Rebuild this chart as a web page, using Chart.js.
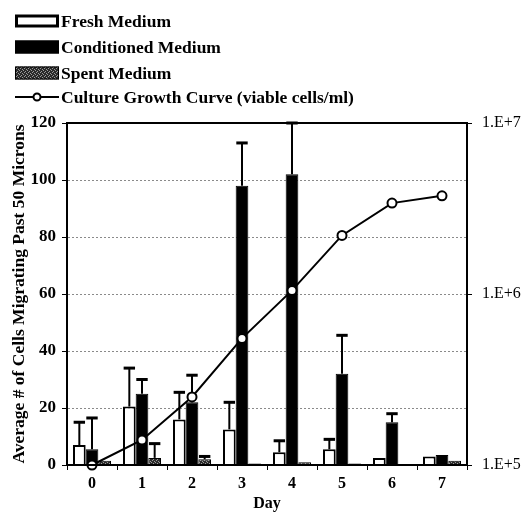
<!DOCTYPE html>
<html>
<head>
<meta charset="utf-8">
<script src="https://cdn.jsdelivr.net/npm/chart.js@4.4.1/dist/chart.umd.min.js"></script>
<style>
html,body{margin:0;padding:0;background:#fff;}
#c{display:block;}
</style>
</head>
<body>
<canvas id="c" width="527" height="521"></canvas>
<script>
// ---- data ----
const days = ['0', '1', '2', '3', '4', '5', '6', '7'];
const freshMedium = [7, 20.5, 16, 12.5, 4.5, 5.5, 2.5, 3];
const freshErr = [8, 13.5, 9.5, 9.5, 4, 3.5, 0, 0];
const conditionedMedium = [5.5, 25, 22, 98, 102, 32, 15, 3.5];
const conditionedErr = [11, 5, 9.5, 15, 18, 13.5, 3, 0];
const spentMedium = [1.5, 2.5, 2, 0.5, 1, 0.5, 0, 1.5];
const spentErr = [0, 5, 1, 0, 0, 0, 0, 0];
const growthCurve = [1.0e5, 1.4e5, 2.5e5, 5.5e5, 1.05e6, 2.2e6, 3.4e6, 3.75e6];
const leftTicks = [0, 20, 40, 60, 80, 100, 120];
const rightTicks = [1e5, 1e6, 1e7];

const SERIF = "'Liberation Serif', 'DejaVu Serif', serif";

// stippled pattern for spent medium
function makePattern() {
  const p = document.createElement('canvas');
  p.width = 4; p.height = 4;
  const g = p.getContext('2d');
  g.fillStyle = '#2a2a2a'; g.fillRect(0, 0, 4, 4);
  g.fillStyle = '#9a9a9a';
  g.fillRect(0, 0, 1, 1); g.fillRect(2, 1, 1, 1); g.fillRect(1, 3, 1, 1); g.fillRect(3, 2, 1, 1);
  return document.getElementById('c').getContext('2d').createPattern(p, 'repeat');
}
const spentFill = makePattern();

const errorBarPlugin = {
  id: 'errorBars',
  afterDatasetDraw(chart, args) {
    const ds = chart.data.datasets[args.index];
    if (!ds.errorBars) return;
    const ctx = chart.ctx;
    const y = chart.scales.y;
    const area = chart.chartArea;
    ctx.save();
    ctx.beginPath();
    ctx.rect(area.left - 2, area.top - 2, area.right - area.left + 4, area.bottom - area.top + 4);
    ctx.clip();
    ctx.strokeStyle = '#000';
    args.meta.data.forEach((bar, i) => {
      const e = ds.errorBars[i];
      if (!e) return;
      const v = ds.data[i];
      const yTop = y.getPixelForValue(v + e);
      const yBase = y.getPixelForValue(v);
      const half = bar.width * 0.45;
      ctx.lineWidth = 2;
      ctx.beginPath();
      ctx.moveTo(bar.x, yBase);
      ctx.lineTo(bar.x, yTop);
      ctx.stroke();
      ctx.lineWidth = 3;
      ctx.beginPath();
      ctx.moveTo(bar.x - half, yTop);
      ctx.lineTo(bar.x + half, yTop);
      ctx.stroke();
    });
    ctx.restore();
  }
};

const framePlugin = {
  id: 'frame',
  afterDraw(chart) {
    const {ctx, chartArea: a} = chart;
    ctx.save();
    ctx.strokeStyle = '#000';
    ctx.lineWidth = 2;
    ctx.strokeRect(a.left, a.top, a.right - a.left, a.bottom - a.top);
    ctx.restore();
  }
};

const legendPlugin = {
  id: 'customLegend',
  afterDraw(chart) {
    const ctx = chart.ctx;
    const rows = [21, 47, 73, 97];
    const boxL = 15, boxW = 44, boxH = 13, textX = 61;
    ctx.save();
    ctx.font = 'bold 17.5px ' + SERIF;
    ctx.textBaseline = 'middle';
    ctx.textAlign = 'left';
    chart.data.datasets.forEach((ds, i) => {
      const cy = rows[i];
      if (ds.type === 'line') {
        ctx.strokeStyle = '#000';
        ctx.lineWidth = 2;
        ctx.beginPath();
        ctx.moveTo(boxL, cy); ctx.lineTo(boxL + boxW, cy); ctx.stroke();
        ctx.beginPath();
        ctx.arc(boxL + boxW / 2, cy, 3.5, 0, Math.PI * 2);
        ctx.fillStyle = '#fff'; ctx.fill(); ctx.stroke();
      } else {
        ctx.fillStyle = ds.backgroundColor;
        ctx.fillRect(boxL, cy - boxH / 2, boxW, boxH);
        ctx.strokeStyle = '#000';
        ctx.lineWidth = ds.legendBorder;
        ctx.strokeRect(boxL + ds.legendBorder / 2, cy - boxH / 2 + ds.legendBorder / 2, boxW - ds.legendBorder, boxH - ds.legendBorder);
      }
      ctx.fillStyle = '#000';
      ctx.fillText(ds.label, textX, cy + 1);
    });
    ctx.restore();
  }
};

new Chart(document.getElementById('c'), {
  data: {
    labels: days,
    datasets: [
      {
        type: 'bar', label: 'Fresh Medium', data: freshMedium, errorBars: freshErr,
        backgroundColor: '#fff', borderColor: '#000', borderWidth: 2, legendBorder: 3,
        yAxisID: 'y', order: 1
      },
      {
        type: 'bar', label: 'Conditioned Medium', data: conditionedMedium, errorBars: conditionedErr,
        backgroundColor: '#000', borderColor: '#000', borderWidth: 1, legendBorder: 1,
        yAxisID: 'y', order: 1
      },
      {
        type: 'bar', label: 'Spent Medium', data: spentMedium, errorBars: spentErr,
        backgroundColor: spentFill, borderColor: '#000', borderWidth: 1, legendBorder: 1,
        yAxisID: 'y', order: 1
      },
      {
        type: 'line', label: 'Culture Growth Curve (viable cells/ml)', data: growthCurve,
        borderColor: '#000', borderWidth: 2, pointRadius: 4.5, pointBackgroundColor: '#fff',
        pointBorderColor: '#000', pointBorderWidth: 2, tension: 0, clip: false,
        yAxisID: 'y2', order: 0
      }
    ]
  },
  options: {
    responsive: false,
    animation: false,
    devicePixelRatio: 1,
    layout: { padding: { top: 123, left: 0, right: 0, bottom: 0 } },
    plugins: { legend: { display: false }, tooltip: { enabled: false } },
    datasets: { bar: { categoryPercentage: 0.76, barPercentage: 1.0 } },
    scales: {
      x: {
        afterFit(s) { s.height = 56; },
        grid: { drawOnChartArea: false, offset: true, tickLength: 5, tickColor: '#000', tickWidth: 1 },
        border: { color: '#000', width: 2 },
        ticks: { color: '#000', padding: 4, font: { family: SERIF, size: 16, weight: 'bold' } },
        title: { display: true, text: 'Day', color: '#000', padding: { top: 0, bottom: 8 },
                 font: { family: SERIF, size: 16, weight: 'bold' } }
      },
      y: {
        position: 'left', min: 0, max: 120,
        afterFit(s) { s.width = 67; },
        afterBuildTicks(s) { s.ticks = leftTicks.map(v => ({ value: v })); },
        grid: { color: '#8a8a8a', lineWidth: 1, tickLength: 5, tickColor: '#000' },
        border: { color: '#000', width: 2, dash: [2, 2] },
        ticks: { color: '#000', padding: 6, font: { family: SERIF, size: 17, weight: 'bold' } },
        title: { display: true, text: 'Average # of Cells Migrating Past 50 Microns', color: '#000',
                 padding: { top: 9, bottom: 0 }, font: { family: SERIF, size: 17.5, weight: 'bold' } }
      },
      y2: {
        type: 'logarithmic', position: 'right', min: 1e5, max: 1e7,
        afterFit(s) { s.width = 60; },
        afterBuildTicks(s) { s.ticks = rightTicks.map(v => ({ value: v })); },
        grid: { drawOnChartArea: false, tickLength: 5, tickColor: '#000' },
        border: { color: '#000', width: 2 },
        ticks: { color: '#000', padding: 10, font: { family: SERIF, size: 16 },
                 callback: v => '1.E+' + Math.round(Math.log10(v)) }
      }
    }
  },
  plugins: [errorBarPlugin, framePlugin, legendPlugin]
});
</script>
</body>
</html>
